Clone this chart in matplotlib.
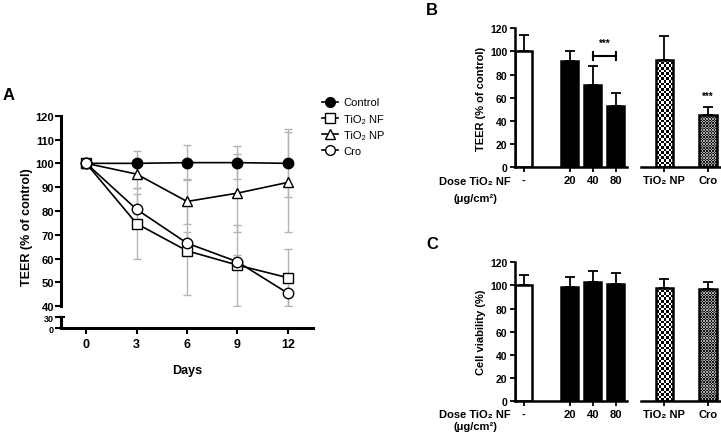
import numpy as np
import matplotlib
matplotlib.use("Agg")
import matplotlib.pyplot as plt
from matplotlib.lines import Line2D

plt.rcParams['font.family'] = ['Liberation Sans', 'DejaVu Sans']

# ---------------- Data: panel A ----------------
days = [0, 3, 6, 9, 12]
ctrl = [100, 100, 100.3, 100.3, 100]
ctrl_err = [0, 5, 7.2, 6.8, 14.3]
nf = [100, 74.7, 63.3, 57.3, 52]
nf_err = [0, 15, 18.6, 17, 12]
np_ = [100, 95.5, 84, 87.5, 92]
np_err = [0, 6, 9.5, 16.5, 21]
cro = [100, 80.7, 66.5, 58.7, 45.5]
cro_err = [0, 6.5, 4.5, 3, 5.5]
series_labels = ['Control', 'TiO₂ NF', 'TiO₂ NP', 'Cro']
a_yticks = [40, 50, 60, 70, 80, 90, 100, 110, 120]

# ---------------- Data: panels B, C ----------------
dose_labels = ['-', '20', '40', '80']
dose_pos = [0, 2, 3, 4]
other_labels = ['TiO₂ NP', 'Cro']
teer_dose = [100, 92, 71, 52.5]
teer_dose_err = [14, 8.5, 16.5, 11.5]
teer_other = [92.5, 45.5]
teer_other_err = [20.5, 6.5]
viab_dose = [100, 98.5, 103, 101]
viab_dose_err = [9, 9, 9.5, 9.5]
viab_other = [98, 97]
viab_other_err = [8, 6]
bar_yticks = [0, 20, 40, 60, 80, 100, 120]

W, H = 721, 439
fig = plt.figure(figsize=(W / 100, H / 100), dpi=100)

def fax(l, t, r, b):
    return fig.add_axes([l / W, 1 - b / H, (r - l) / W, (b - t) / H])

# ================= Panel A =================
axA = fax(61, 116.7, 313, 307.3)
axA0 = fax(61, 318.3, 313, 329.3)
xlim = (-1.5, 13.5)
gray = '#b4b4b4'
series = [(ctrl, ctrl_err, 'o', 'black'), (nf, nf_err, 's', 'white'),
          (np_, np_err, '^', 'white'), (cro, cro_err, 'o', 'white')]
for vals, err, mk, fc in series:
    axA.errorbar(days, vals, yerr=err, fmt='none', ecolor=gray, elinewidth=1.0,
                 capsize=3, capthick=1.0, zorder=1)
for vals, err, mk, fc in series:
    axA.plot(days, vals, color='black', lw=1.2, marker=mk, ms=7.5, mfc=fc,
             mec='black', mew=1.0, zorder=3, clip_on=False)
axA.set_xlim(*xlim)
axA.set_ylim(40, 120)
axA.set_yticks(a_yticks)
axA.set_xticks([])
for s in ['top', 'right', 'bottom']:
    axA.spines[s].set_visible(False)
axA.spines['left'].set_linewidth(2.2)
axA.tick_params(axis='y', direction='out', length=4, width=1.5, pad=1,
                labelsize=8)
for lb in axA.get_yticklabels():
    lb.set_fontweight('bold')
axA.set_ylabel('TEER (% of control)', fontsize=9, fontweight='bold')
axA.yaxis.set_label_coords(-0.11, 0.42)

axA0.set_xlim(*xlim)
axA0.set_ylim(0, 30)
axA0.set_yticks([0, 30])
axA0.set_xticks(days)
for s in ['top', 'right']:
    axA0.spines[s].set_visible(False)
axA0.spines['left'].set_linewidth(2.2)
axA0.spines['bottom'].set_linewidth(2.2)
axA0.tick_params(axis='y', direction='out', length=4, width=1.5, pad=1,
                 labelsize=6.5)
axA0.tick_params(axis='x', direction='out', length=4, width=1.5, pad=3,
                 labelsize=9)
for lb in axA0.get_yticklabels() + axA0.get_xticklabels():
    lb.set_fontweight('bold')
axA0.plot([0], [30], marker='_', ms=6, mew=1.5, color='black', clip_on=False,
          transform=axA0.get_yaxis_transform())
axA0.set_xlabel('Days', fontsize=9, fontweight='bold', labelpad=10)

handles = []
for (vals, err, mk, fc), lab in zip(series, series_labels):
    handles.append(Line2D([], [], color='black', lw=1.2, marker=mk, ms=7,
                          mfc=fc, mec='black', mew=1.0))
fig.legend(handles, series_labels, loc='upper left',
           bbox_to_anchor=(318 / W, 1 - 94 / H), frameon=False, fontsize=8,
           handlelength=1.4, handletextpad=0.5, labelspacing=0.55,
           borderaxespad=0)

fig.text(3 / W, 1 - 100 / H, 'A', fontsize=12, fontweight='bold')

# ================= Panels B and C =================
def checker(ax, bar, cell, c1, c2):
    x0, y0 = bar.get_x(), bar.get_y()
    x1, y1 = x0 + bar.get_width(), y0 + bar.get_height()
    p0 = ax.transData.transform((x0, y0))
    p1 = ax.transData.transform((x1, y1))
    nx = max(1, int(round(abs(p1[0] - p0[0]) / cell)))
    ny = max(1, int(round(abs(p1[1] - p0[1]) / cell)))
    pat = np.indices((ny, nx)).sum(0) % 2
    img = np.where(pat[..., None] == 1, np.array(c1, dtype=float),
                   np.array(c2, dtype=float))
    im = ax.imshow(img, extent=(x0, x1, y0, y1), aspect='auto',
                   interpolation='nearest', zorder=bar.get_zorder() - 0.5)
    im.set_clip_path(bar)

def bar_panel(top, bottom, dose_vals, dose_err, oth_vals, oth_err, ylabel,
              letter, off1, off2, sig=False):
    ax1 = fax(515, top, 627, bottom)
    ax2 = fax(641, top, 721, bottom)
    ax1.set_xlim(-0.39, 4.48)
    ax2.set_xlim(-0.535, 1.30)
    for ax in (ax1, ax2):
        ax.set_ylim(0, 120)
        for s in ['top', 'right']:
            ax.spines[s].set_visible(False)
        ax.spines['bottom'].set_linewidth(1.8)
    ax1.spines['left'].set_linewidth(1.8)
    ax2.spines['left'].set_visible(False)
    ax2.set_yticks([])

    colors = ['white', 'black', 'black', 'black']
    ax1.bar(dose_pos, dose_vals, width=0.74, color=colors,
            edgecolor='black', linewidth=1.8, zorder=2)
    ax1.errorbar(dose_pos, dose_vals, yerr=[[0] * 4, dose_err], fmt='none',
                 ecolor='black', elinewidth=1.3, capsize=3.5, capthick=1.3,
                 zorder=1)
    opos = [0, 1]
    b2 = ax2.bar(opos, oth_vals, width=0.4, color='none', edgecolor='black',
                 linewidth=1.8, zorder=2)
    ax2.errorbar(opos, oth_vals, yerr=[[0, 0], oth_err], fmt='none',
                 ecolor='black', elinewidth=1.3, capsize=3.5, capthick=1.3,
                 zorder=1)
    checker(ax2, b2[0], 2.6, (0, 0, 0), (1, 1, 1))
    checker(ax2, b2[1], 1.4, (0.1, 0.1, 0.1), (0.65, 0.65, 0.65))
    ax2.set_xlim(-0.535, 1.30)
    ax2.set_ylim(0, 120)

    ax1.set_yticks(bar_yticks)
    ax1.set_xticks(dose_pos)
    ax1.set_xticklabels(dose_labels)
    ax2.set_xticks(opos)
    ax2.set_xticklabels(other_labels)
    for ax in (ax1, ax2):
        ax.tick_params(axis='both', direction='out', length=3.5, width=1.3,
                       labelsize=7.5, pad=2)
        ax.tick_params(axis='x', labelsize=8)
        for lb in ax.get_xticklabels() + ax.get_yticklabels():
            lb.set_fontweight('bold')
    ax1.set_ylabel(ylabel, fontsize=8, fontweight='bold', labelpad=3)

    fig.text(511 / W, 1 - (bottom + off1) / H, 'Dose TiO₂ NF', ha='right',
             va='center', fontsize=8, fontweight='bold')
    fig.text(475 / W, 1 - (bottom + off2) / H, '(μg/cm²)', ha='center',
             va='center', fontsize=8, fontweight='bold')
    fig.text(426 / W, 1 - (top - 19) / H, letter, fontsize=12,
             fontweight='bold', va='center')

    if sig:
        ax1.plot([3, 4], [96, 96], color='black', lw=1.5, zorder=3)
        ax1.plot([3, 3], [92.5, 99.5], color='black', lw=1.5, zorder=3)
        ax1.plot([4, 4], [92.5, 99.5], color='black', lw=1.5, zorder=3)
        ax1.text(3.5, 103, '***', ha='center', va='bottom', fontsize=7,
                 fontweight='bold')
        ax2.text(1, 57, '***', ha='center', va='bottom', fontsize=7,
                 fontweight='bold')
    return ax1, ax2

bar_panel(29.3, 168.3, teer_dose, teer_dose_err, teer_other, teer_other_err,
          'TEER (% of control)', 'B', 14, 31, sig=True)
bar_panel(263.3, 402.3, viab_dose, viab_dose_err, viab_other, viab_other_err,
          'Cell viability (%)', 'C', 13, 25)

fig.savefig('out.png', dpi=100)
